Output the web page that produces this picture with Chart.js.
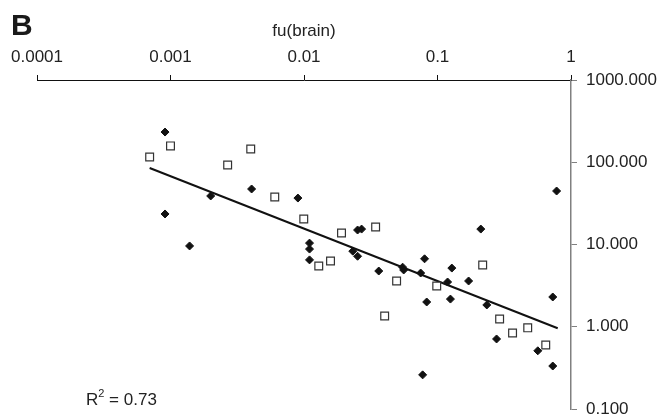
<!DOCTYPE html>
<html>
<head>
<meta charset="utf-8">
<script src="https://cdn.jsdelivr.net/npm/chart.js@4.4.1/dist/chart.umd.min.js"></script>
<style>
  html, body { margin: 0; padding: 0; background: #fff; }
  #wrap { width: 659px; height: 417px; }
</style>
</head>
<body>
<div id="wrap"><canvas id="chart"></canvas></div>
<script>
const diamondX = [0.00091, 0.0020, 0.00405, 0.00091, 0.00139, 0.0090, 0.0110, 0.0110, 0.0110, 0.0232,
                  0.0252, 0.0252, 0.0270, 0.0363, 0.0548, 0.0558, 0.080, 0.0748, 0.128, 0.119,
                  0.171, 0.083, 0.125, 0.211, 0.234, 0.277, 0.564, 0.73, 0.73, 0.0774, 0.78];
const diamondY = [233, 38.9, 47.3, 23.5, 9.6, 36.7, 10.4, 8.8, 6.5, 8.3,
                  7.2, 15.0, 15.4, 4.76, 5.3, 4.9, 6.7, 4.5, 5.17, 3.5,
                  3.6, 2.0, 2.17, 15.4, 1.84, 0.71, 0.51, 2.3, 0.333, 0.26, 44.7];

const squareX = [0.000698, 0.0010, 0.00268, 0.00399, 0.00604, 0.00996, 0.0129, 0.0158, 0.0191,
                 0.0344, 0.0494, 0.0987, 0.0402, 0.218, 0.292, 0.365, 0.474, 0.647];
const squareY = [116, 158, 92.6, 145, 37.8, 20.4, 5.48, 6.3, 13.8,
                 16.3, 3.6, 3.13, 1.35, 5.64, 1.24, 0.84, 0.97, 0.60];

// regression line end points
const trendX = [0.000698, 0.795];
const trendY = [85, 0.96];

const xTicks = [0.0001, 0.001, 0.01, 0.1, 1];
const yTicks = [0.1, 1, 10, 100, 1000];

const toPoints = (xs, ys) => xs.map((x, i) => ({ x: x, y: ys[i] }));

const FONT = 'Liberation Sans, Arial, sans-serif';

// panel letter and R² text
const extraText = {
    id: 'extraText',
    afterDraw(chart) {
        const c = chart.ctx;
        c.save();
        c.fillStyle = '#1a1a1a';
        c.textBaseline = 'alphabetic';
        c.font = 'bold 30px ' + FONT;
        c.fillText('B', 11, 35);

        c.fillStyle = '#222';
        c.font = '17px ' + FONT;
        let x = 86;
        c.fillText('R', x, 405);
        x += c.measureText('R').width;
        c.font = '11px ' + FONT;
        c.fillText('2', x, 397);
        x += c.measureText('2').width;
        c.font = '17px ' + FONT;
        c.fillText(' = 0.73', x, 405);
        c.restore();
    }
};

new Chart(document.getElementById('chart'), {
    type: 'scatter',
    data: {
        datasets: [{
            label: 'diamonds',
            data: toPoints(diamondX, diamondY),
            pointStyle: 'rectRot',
            pointRadius: 4,
            backgroundColor: '#111',
            borderColor: '#111',
            borderWidth: 1,
        }, {
            label: 'squares',
            data: toPoints(squareX, squareY),
            pointStyle: 'rect',
            pointRadius: 5.5,
            backgroundColor: '#fff',
            borderColor: '#333',
            borderWidth: 1.2,
        }, {
            label: 'trend',
            type: 'line',
            data: toPoints(trendX, trendY),
            borderColor: '#111',
            borderWidth: 2,
            pointRadius: 0,
            fill: false,
        }]
    },
    options: {
        responsive: true,
        maintainAspectRatio: false,
        animation: false,
        layout: { padding: { left: 37, top: 0, right: 0, bottom: 8 } },
        plugins: {
            legend: { display: false },
            tooltip: { enabled: false },
        },
        scales: {
            x: {
                type: 'logarithmic',
                position: 'top',
                min: 0.0001,
                max: 1,
                afterBuildTicks: (scale) => { scale.ticks = xTicks.map(v => ({ value: v })); },
                afterFit: (scale) => { scale.height = 80; scale.paddingLeft = 0; scale.paddingRight = 0; },
                ticks: {
                    autoSkip: false,
                    maxRotation: 0,
                    padding: 7,
                    color: '#222',
                    font: { family: FONT, size: 17 },
                    callback: (v) => String(v),
                },
                grid: { drawOnChartArea: false, drawTicks: true, tickLength: 5, color: '#111' },
                border: { display: true, color: '#111', width: 1 },
                title: {
                    display: true,
                    text: 'fu(brain)',
                    color: '#222',
                    font: { family: FONT, size: 17 },
                    padding: { top: 21, bottom: 0 },
                },
            },
            y: {
                type: 'logarithmic',
                position: 'right',
                min: 0.1,
                max: 1000,
                afterBuildTicks: (scale) => { scale.ticks = yTicks.map(v => ({ value: v })); },
                afterFit: (scale) => { scale.width = 88; scale.paddingTop = 0; scale.paddingBottom = 0; },
                ticks: {
                    autoSkip: false,
                    padding: 9,
                    color: '#222',
                    font: { family: FONT, size: 17 },
                    callback: (v) => Number(v).toFixed(3),
                },
                grid: { drawOnChartArea: false, drawTicks: true, tickLength: 6, color: '#808080' },
                border: { display: true, color: '#808080', width: 1.5 },
            }
        }
    },
    plugins: [extraText]
});
</script>
</body>
</html>
